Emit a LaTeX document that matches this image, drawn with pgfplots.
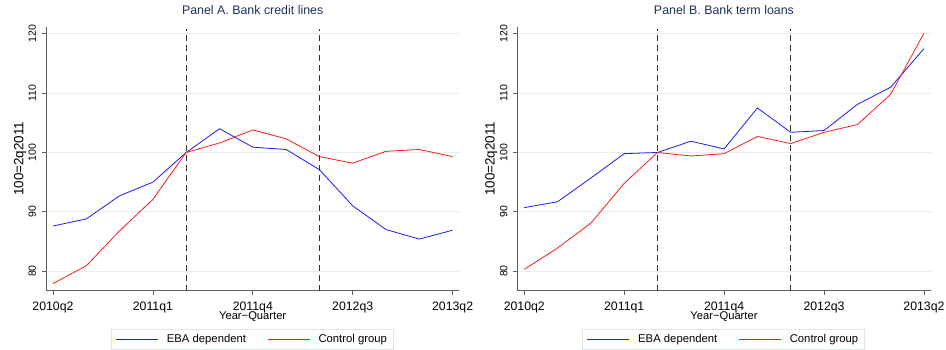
\documentclass[border=0pt]{standalone}
\usepackage{fontspec}
\setmainfont{Liberation Sans}
\usepackage{pgfplots}
\usepackage{pgfplotstable}
\pgfplotsset{compat=1.18}

\definecolor{titlecol}{RGB}{30,50,90}
\definecolor{gridcol}{RGB}{230,238,238}
\definecolor{axiscol}{RGB}{95,95,95}
\definecolor{legcol}{RGB}{222,230,230}
\definecolor{ebablue}{RGB}{25,25,255}
\definecolor{ctrlred}{RGB}{255,25,25}
\definecolor{vcol}{RGB}{50,50,50}

% Index values, 100 = 2011q2; q = quarters since 2010q2
\pgfplotstableread{
q  eba    ctrl
0  87.6   77.9
1  88.8   80.9
2  92.7   86.8
3  95.0   92.1
4  100.0  100.0
5  104.0  101.6
6  100.9  103.8
7  100.5  102.3
8  97.1   99.3
9  91.0   98.2
10 87.0   100.2
11 85.4   100.5
12 86.9   99.3
}\creditlines

\pgfplotstableread{
q  eba    ctrl
0  90.7   80.3
1  91.7   83.9
2  95.7   88.1
3  99.8   94.8
4  100.0  100.0
5  101.9  99.4
6  100.6  99.8
7  107.5  102.7
8  103.4  101.5
9  103.7  103.4
10 108.1  104.7
11 111.0  109.8
12 117.5  120.1
}\termloans

\pgfplotsset{
  panel/.style={
    scale only axis, width=413.3pt, height=264pt,
    xmin=-0.21, xmax=12.2, ymin=76.7, ymax=121.2,
    axis x line*=bottom, axis y line*=left,
    axis line style={axiscol, line width=0.8pt, -},
    xtick={0,3,6,9,12},
    xticklabels={2010q2,2011q1,2011q4,2012q3,2013q2},
    ytick={80,90,100,110,120},
    tick align=outside, major tick length=4pt,
    tick style={axiscol, line width=0.8pt},
    ymajorgrids, grid style={gridcol, line width=0.8pt},
    /pgf/number format/assume math mode=true,
    xticklabel style={font=\fontsize{12.3}{14}\selectfont, anchor=base, yshift=-15.5pt},
    yticklabel style={font=\fontsize{10.5}{12}\selectfont, xshift=-6pt, rotate=90, anchor=base},
    xlabel={Year\textminus Quarter},
    xlabel style={at={(axis description cs:0.5,-0.109)}, anchor=base,
                  font=\fontsize{11.2}{13}\selectfont},
    ylabel={100=2q2011},
    ylabel style={at={(axis description cs:-0.0549,0.5)}, anchor=base,
                  font=\fontsize{13.4}{15}\selectfont},
    title style={at={(axis description cs:0.5,1)}, anchor=base, yshift=6pt,
                 font=\fontsize{12.4}{14}\selectfont, text=titlecol},
  },
  ebaline/.style={ebablue, line width=0.8pt, no markers},
  ctrlline/.style={ctrlred, line width=0.8pt, no markers},
  eventline/.style={vcol, line width=0.8pt, dash pattern=on 6pt off 4pt},
}

\begin{document}
\begin{tikzpicture}[x=1pt,y=1pt]
\useasboundingbox (0,0) rectangle (946,350);

\begin{axis}[panel, at={(46pt,59.3pt)}, anchor=south west,
  title={Panel A. Bank credit lines}]
  \addplot[ebaline] table[x=q, y=eba] {\creditlines};
  \addplot[ctrlline] table[x=q, y=ctrl] {\creditlines};
  \addplot[eventline] coordinates {(4,76.7) (4,120.8)};
  \addplot[eventline] coordinates {(8,76.7) (8,120.8)};
\end{axis}

\begin{axis}[panel, at={(517.3pt,59.3pt)}, anchor=south west,
  title={Panel B. Bank term loans}]
  \addplot[ebaline] table[x=q, y=eba] {\termloans};
  \addplot[ctrlline] table[x=q, y=ctrl] {\termloans};
  \addplot[eventline] coordinates {(4,76.7) (4,120.8)};
  \addplot[eventline] coordinates {(8,76.7) (8,120.8)};
\end{axis}

% legend box below each panel
\foreach \dx in {0,471.3} {
  \draw[legcol, line width=0.8pt] (111.5+\dx,0.7) rectangle (393.5+\dx,20.7);
  \draw[ebablue, line width=0.8pt] (116+\dx,10.7) -- (158+\dx,10.7);
  \node[anchor=base west, inner sep=0pt, font=\fontsize{11.3}{13}\selectfont]
    at (166.7+\dx,7.2) {EBA dependent};
  \draw[ctrlred, line width=0.8pt] (267.7+\dx,10.7) -- (310+\dx,10.7);
  \node[anchor=base west, inner sep=0pt, font=\fontsize{11.3}{13}\selectfont]
    at (318.3+\dx,7.2) {Control group};
}
\end{tikzpicture}
\end{document}
